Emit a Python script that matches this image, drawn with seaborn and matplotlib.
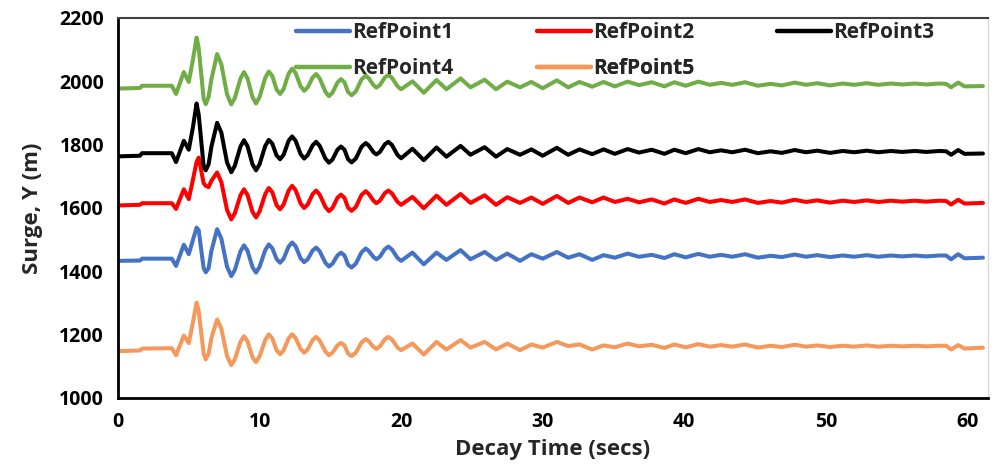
import matplotlib
matplotlib.use("Agg")
import matplotlib.pyplot as plt
import seaborn as sns
import pandas as pd
from matplotlib.lines import Line2D

# ---------------- data ----------------
# peaks / troughs and plateau points
time_s = [0, 1.55, 1.7, 3.8, 4.1, 4.65, 5.0, 5.3, 5.55, 5.7,
          6.05, 6.2, 6.4, 6.6, 7.0, 8.0, 8.9, 9.75, 10.65, 11.45,
          12.3, 13.15, 14.0, 14.9, 15.75, 16.5, 17.5, 18.25, 19.1, 20.0,
          20.8, 21.6, 22.5, 23.2, 24.2, 24.9, 25.9, 26.7, 27.5, 28.4,
          29.2, 30.0, 31.0, 31.8, 32.6, 33.5, 34.3, 35.1, 36.0, 36.8,
          37.7, 38.6, 39.3, 40.1, 41.0, 41.8, 42.6, 43.4, 44.3, 45.2,
          46.1, 46.9, 47.8, 48.6, 49.4, 50.3, 51.2, 52.0, 52.9, 53.7,
          54.6, 55.4, 56.3, 57.1, 58.0, 58.5, 58.85, 59.35, 59.8, 61.1]

refpoint1 = [1433, 1434, 1440, 1440, 1417, 1484, 1454, 1500, 1538, 1530,
             1410, 1397, 1410, 1465, 1533, 1385, 1482, 1396, 1485, 1427,
             1491, 1429, 1475, 1415, 1459, 1412, 1472, 1438, 1478, 1433,
             1459, 1422, 1459, 1436, 1467, 1438, 1461, 1436, 1456, 1433,
             1454, 1440, 1461, 1443, 1454, 1436, 1451, 1443, 1456, 1446,
             1452, 1442, 1454, 1444, 1455, 1446, 1452, 1446, 1454, 1443,
             1449, 1445, 1453, 1446, 1451, 1445, 1450, 1446, 1451, 1446,
             1450, 1447, 1450, 1447, 1450, 1450, 1438, 1454, 1441, 1443]

refpoint2 = [1608, 1610, 1615, 1615, 1597, 1659, 1628, 1691, 1745, 1759,
             1678, 1670, 1666, 1686, 1712, 1564, 1659, 1570, 1663, 1596,
             1670, 1600, 1655, 1590, 1642, 1591, 1653, 1615, 1655, 1610,
             1635, 1599, 1639, 1610, 1644, 1616, 1640, 1610, 1634, 1616,
             1633, 1613, 1638, 1616, 1633, 1618, 1633, 1619, 1629, 1618,
             1627, 1614, 1627, 1616, 1629, 1619, 1625, 1619, 1627, 1616,
             1622, 1617, 1626, 1619, 1624, 1617, 1623, 1619, 1624, 1619,
             1623, 1620, 1623, 1620, 1623, 1622, 1611, 1626, 1614, 1616]

refpoint3 = [1763, 1765, 1773, 1773, 1745, 1812, 1784, 1857, 1930, 1895,
             1732, 1719, 1738, 1794, 1869, 1713, 1814, 1719, 1815, 1754,
             1826, 1756, 1809, 1743, 1794, 1744, 1805, 1769, 1809, 1757,
             1787, 1751, 1791, 1762, 1796, 1768, 1792, 1762, 1786, 1768,
             1785, 1765, 1790, 1768, 1785, 1770, 1785, 1771, 1786, 1775,
             1784, 1771, 1784, 1773, 1786, 1776, 1782, 1776, 1784, 1773,
             1779, 1774, 1783, 1776, 1781, 1774, 1780, 1776, 1781, 1776,
             1780, 1777, 1780, 1777, 1780, 1779, 1768, 1783, 1771, 1772]

refpoint4 = [1977, 1979, 1986, 1986, 1960, 2029, 1998, 2070, 2138, 2105,
             1945, 1928, 1951, 2007, 2086, 1927, 2029, 1930, 2031, 1960,
             2040, 1970, 2023, 1953, 2007, 1956, 2018, 1980, 2020, 1975,
             2000, 1964, 2004, 1975, 2009, 1981, 2005, 1975, 1999, 1981,
             1998, 1978, 2003, 1981, 1998, 1983, 1998, 1984, 1999, 1988,
             1997, 1984, 1997, 1986, 1999, 1989, 1995, 1989, 1997, 1986,
             1992, 1987, 1996, 1989, 1994, 1987, 1993, 1989, 1994, 1989,
             1993, 1990, 1993, 1990, 1993, 1992, 1981, 1996, 1984, 1985]

refpoint5 = [1148, 1150, 1156, 1157, 1135, 1197, 1173, 1240, 1301, 1275,
             1140, 1122, 1140, 1190, 1248, 1104, 1195, 1113, 1201, 1138,
             1201, 1143, 1193, 1135, 1174, 1132, 1186, 1155, 1193, 1151,
             1172, 1137, 1177, 1153, 1183, 1159, 1177, 1153, 1172, 1151,
             1169, 1159, 1177, 1164, 1169, 1153, 1166, 1160, 1172, 1163,
             1168, 1158, 1169, 1160, 1170, 1162, 1167, 1162, 1169, 1159,
             1165, 1161, 1168, 1162, 1166, 1161, 1165, 1162, 1166, 1162,
             1165, 1163, 1165, 1163, 1165, 1165, 1153, 1167, 1156, 1159]

# flank points of the large early swings (read between peaks and troughs)
flank_time = [7.3, 7.7, 8.25, 8.65, 9.15, 9.5, 10.0, 10.4, 10.9, 11.2,
              11.7, 12.05, 12.55, 12.9, 13.4, 13.75, 14.25, 14.65, 15.15, 15.5,
              16.0, 16.25, 16.8, 17.2, 17.7, 18.05, 18.5, 18.85, 19.35, 19.75]

flank1 = [1503, 1415, 1404, 1463, 1465, 1413, 1414, 1467, 1473, 1439,
          1440, 1478, 1479, 1441, 1438, 1466, 1463, 1427, 1424, 1450,
          1450, 1421, 1424, 1460, 1465, 1445, 1446, 1470, 1469, 1442]

flank2 = [1682, 1594, 1583, 1640, 1641, 1588, 1589, 1644, 1650, 1609,
          1611, 1655, 1656, 1614, 1611, 1644, 1642, 1603, 1600, 1632,
          1632, 1601, 1603, 1641, 1645, 1623, 1623, 1647, 1646, 1619]

flank3 = [1838, 1744, 1733, 1794, 1795, 1738, 1738, 1796, 1803, 1766,
          1768, 1812, 1812, 1770, 1767, 1798, 1796, 1756, 1753, 1784,
          1784, 1754, 1756, 1793, 1798, 1776, 1777, 1801, 1799, 1767]

flank4 = [2054, 1959, 1947, 2009, 2009, 1950, 1950, 2011, 2017, 1974,
          1976, 2024, 2026, 1984, 1981, 2012, 2009, 1967, 1964, 1996,
          1997, 1966, 1968, 2006, 2010, 1988, 1988, 2012, 2011, 1984]

flank5 = [1219, 1133, 1122, 1177, 1179, 1129, 1131, 1183, 1188, 1151,
          1151, 1188, 1189, 1155, 1153, 1183, 1181, 1147, 1143, 1166,
          1166, 1140, 1143, 1175, 1180, 1161, 1163, 1185, 1185, 1159]

series_names = ["RefPoint1", "RefPoint2", "RefPoint3", "RefPoint4", "RefPoint5"]
series_values = [refpoint1, refpoint2, refpoint3, refpoint4, refpoint5]
series_flanks = [flank1, flank2, flank3, flank4, flank5]
series_colors = ["#4472C4", "#FF0000", "#000000", "#70AD47", "#F4995B"]

x_ticks = [0, 10, 20, 30, 40, 50, 60]
y_ticks = [1000, 1200, 1400, 1600, 1800, 2000, 2200]

# ---------------- build table ----------------
frames = []
for name, vals, flank in zip(series_names, series_values, series_flanks):
    d = pd.DataFrame({"t": list(time_s) + list(flank_time),
                      "v": list(vals) + list(flank), "series": name})
    frames.append(d.sort_values("t"))
df = pd.concat(frames, ignore_index=True)

sns.set_theme(style="white")
FONT = ["Open Sans", "DejaVu Sans"]
plt.rcParams["font.family"] = FONT
plt.rcParams["font.weight"] = "bold"

fig = plt.figure(figsize=(9.95, 4.67), dpi=100)
ax = fig.add_axes([0.1186, 0.1478, 0.993 - 0.1186, 0.9615 - 0.1478])

sns.lineplot(data=df, x="t", y="v", hue="series", hue_order=series_names,
             palette=dict(zip(series_names, series_colors)), sort=False,
             estimator=None, linewidth=2.9, ax=ax, legend=False)
for ln in ax.lines:
    ln.set_solid_joinstyle("round")
    ln.set_solid_capstyle("round")

ax.set_xlim(0, 61.46)
ax.set_ylim(1000, 2200)
ax.set_xticks(x_ticks)
ax.set_yticks(y_ticks)
ax.tick_params(axis="both", which="major", direction="out", length=6, width=1.5,
               colors="black", labelsize=14, pad=4)
for lab in ax.get_xticklabels() + ax.get_yticklabels():
    lab.set_fontweight("bold")

ax.set_xlabel("Decay Time (secs)", fontsize=16, fontweight="bold", labelpad=5)
ax.set_ylabel("Surge, Y (m)", fontsize=16, fontweight="bold", labelpad=12)

for side in ["left", "bottom"]:
    ax.spines[side].set_color("black")
    ax.spines[side].set_linewidth(2)
ax.spines["top"].set_color("#404040")
ax.spines["top"].set_linewidth(1.5)
ax.spines["right"].set_color("#D9D9D9")
ax.spines["right"].set_linewidth(1)

# legend entries placed individually (2 rows x 3 columns, row-major)
leg_x = [0.2046, 0.4816, 0.7575, 0.2046, 0.4816]
leg_y = [0.9620, 0.9620, 0.9620, 0.8670, 0.8670]
leg_fs = 15
for i, (name, col) in enumerate(zip(series_names, series_colors)):
    h = Line2D([], [], color=col, linewidth=3.2)
    lg = ax.legend([h], [name], loc="center left",
                   bbox_to_anchor=(leg_x[i], leg_y[i]), frameon=False,
                   fontsize=leg_fs, handlelength=54 / (leg_fs * 100 / 72),
                   handletextpad=0.12, borderpad=0, borderaxespad=0)
    for txt in lg.get_texts():
        txt.set_fontweight("bold")
    ax.add_artist(lg)

fig.savefig("out.png", dpi=100)
